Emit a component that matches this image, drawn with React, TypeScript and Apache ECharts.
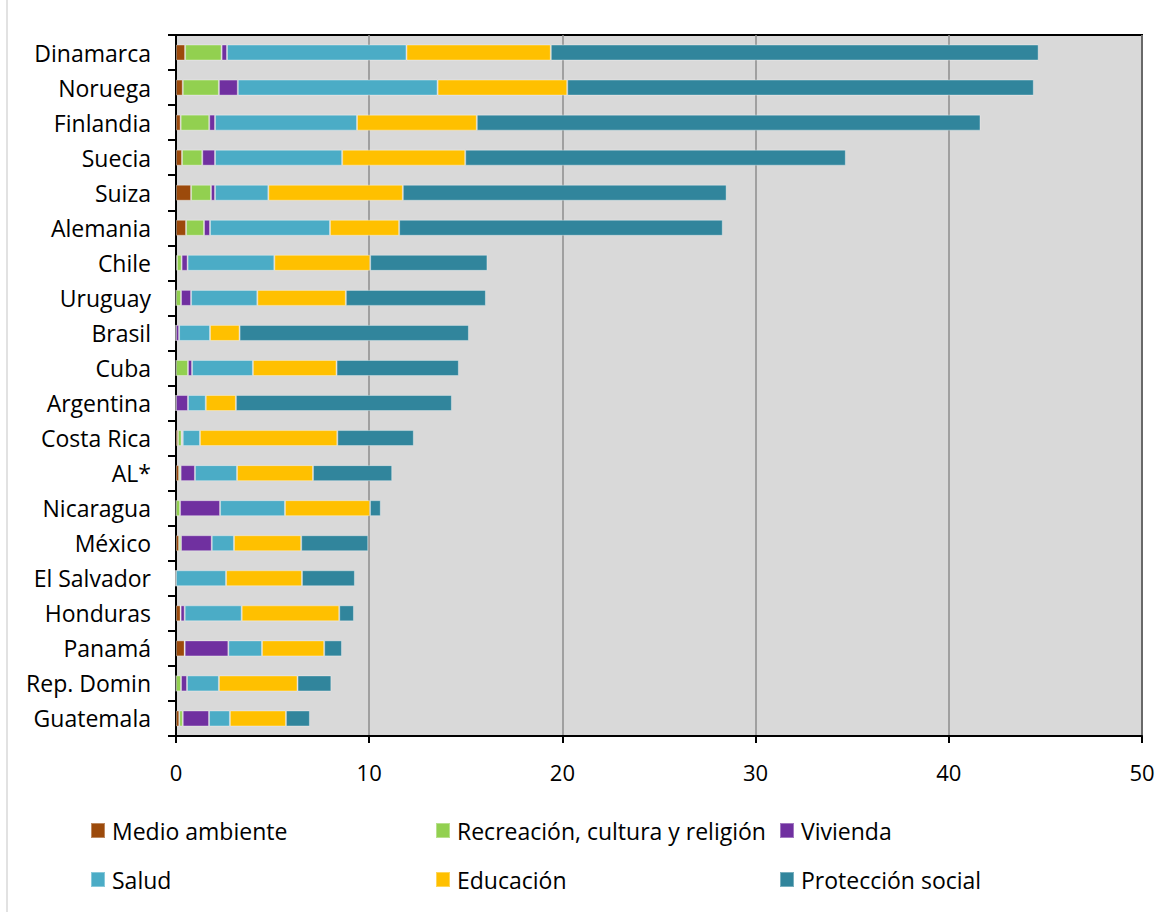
import React, { useEffect, useRef } from "react";
import * as echarts from "echarts";

const categories = ["Dinamarca", "Noruega", "Finlandia", "Suecia", "Suiza", "Alemania", "Chile", "Uruguay", "Brasil", "Cuba", "Argentina", "Costa Rica", "AL*", "Nicaragua", "México", "El Salvador", "Honduras", "Panamá", "Rep. Domin", "Guatemala"];

const medioAmbiente = [0.47, 0.35, 0.24, 0.31, 0.78, 0.52, 0.05, 0, 0, 0, 0, 0.1, 0.16, 0, 0.16, 0, 0.24, 0.45, 0, 0.17];
const recreacion = [1.89, 1.87, 1.48, 1.05, 1.03, 0.93, 0.24, 0.26, 0, 0.62, 0, 0.19, 0.08, 0.21, 0.1, 0, 0, 0, 0.26, 0.18];
const vivienda = [0.28, 0.98, 0.3, 0.66, 0.21, 0.31, 0.31, 0.52, 0.16, 0.21, 0.62, 0.06, 0.74, 2.07, 1.59, 0, 0.21, 2.26, 0.31, 1.36];
const salud = [9.29, 10.34, 7.35, 6.58, 2.76, 6.21, 4.49, 3.43, 1.6, 3.15, 0.92, 0.89, 2.18, 3.36, 1.15, 2.59, 2.95, 1.74, 1.65, 1.08];
const educacion = [7.47, 6.71, 6.2, 6.37, 6.96, 3.58, 4.96, 4.58, 1.53, 4.33, 1.56, 7.11, 3.93, 4.4, 3.48, 3.93, 5.05, 3.22, 4.07, 2.9];
const proteccion = [25.25, 24.15, 26.07, 19.7, 16.76, 16.75, 6.07, 7.25, 11.87, 6.33, 11.18, 3.96, 4.1, 0.56, 3.47, 2.74, 0.76, 0.92, 1.75, 1.24];

const xTicks = [0, 10, 20, 30, 40, 50];

const seriesDefs = [
  { name: "Medio ambiente", data: medioAmbiente, color: "#9C4A0B" },
  { name: "Recreación, cultura y religión", data: recreacion, color: "#92D050" },
  { name: "Vivienda", data: vivienda, color: "#7030A0" },
  { name: "Salud", data: salud, color: "#4BACC6" },
  { name: "Educación", data: educacion, color: "#FFC000" },
  { name: "Protección social", data: proteccion, color: "#31859C" },
];

const legendPos = [
  { left: 90, top: 819 },
  { left: 435, top: 819 },
  { left: 779, top: 819 },
  { left: 90, top: 868 },
  { left: 435, top: 868 },
  { left: 779, top: 868 },
];

const FONT = "'Open Sans', 'Noto Sans', sans-serif";

export default function App() {
  const ref = useRef<HTMLDivElement>(null);
  useEffect(() => {
    if (!ref.current) return;
    const chart = echarts.init(ref.current, null, { renderer: "svg" });
    chart.setOption({
      animation: false,
      backgroundColor: "#ffffff",
      textStyle: { fontFamily: FONT },
      grid: {
        left: 176,
        right: 18,
        top: 35,
        height: 701,
        show: true,
        backgroundColor: "#D9D9D9",
        borderColor: "#000000",
        borderWidth: 2,
      },
      legend: seriesDefs.map((s, i) => ({
        data: [s.name],
        left: legendPos[i].left,
        top: legendPos[i].top,
        padding: 0,
        icon: "rect",
        itemWidth: 14,
        itemHeight: 15,
        itemGap: 0,
        textStyle: { fontSize: 23, lineHeight: 23, color: "#000000", fontFamily: FONT, padding: [0, 0, 0, 2] },
        selectedMode: false,
      })),
      xAxis: {
        type: "value",
        min: 0,
        max: 50,
        interval: 10,
        axisLine: { show: true, lineStyle: { color: "#000000", width: 2 } },
        axisTick: { show: true, length: 7, lineStyle: { color: "#000000", width: 2 } },
        axisLabel: {
          fontSize: 22,
          color: "#000000",
          margin: 25,
          fontFamily: FONT,
          formatter: (v: number) => (xTicks.includes(v) ? String(v) : ""),
        },
        splitLine: { show: true, lineStyle: { color: "#8C8C8C", width: 1.5 } },
      },
      yAxis: {
        type: "category",
        inverse: true,
        data: categories,
        axisLine: { show: true, lineStyle: { color: "#000000", width: 2 } },
        axisTick: { show: true, length: 8, alignWithLabel: false, lineStyle: { color: "#000000", width: 2 } },
        axisLabel: { fontSize: 23, color: "#000000", margin: 25, fontFamily: FONT, padding: [0, 0, 3, 0] },
        splitLine: { show: false },
      },
      graphic: [
        {
          type: "line",
          shape: { x1: 7, y1: 0, x2: 7, y2: 912 },
          style: { stroke: "#D9D9D9", lineWidth: 1.5 },
        },
      ],
      series: seriesDefs.map((s) => ({
        type: "bar",
        name: s.name,
        stack: "total",
        data: s.data,
        barWidth: 16,
        itemStyle: { color: s.color, borderColor: "rgba(255,255,255,0.35)", borderWidth: 1 },
        emphasis: { disabled: true },
      })),
    });
    return () => chart.dispose();
  }, []);
  return <div ref={ref} style={{ position: "fixed", left: 0, top: 0, width: 1160, height: 912 }} />;
}
